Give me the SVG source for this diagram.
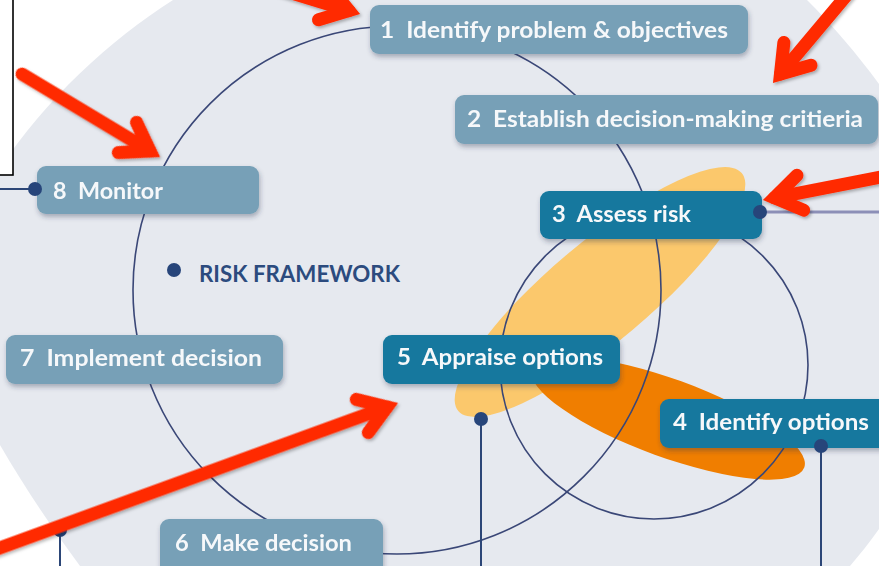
<svg xmlns="http://www.w3.org/2000/svg" width="879" height="566" viewBox="0 0 879 566">
  <defs>
    <style>
      .bg { fill: #e6e9ef; }
      .ring { fill: none; stroke: #3a4777; stroke-width: 1.6; }
      .light { fill: #77a0b7; }
      .dark { fill: #14789e; }
      .label { font-family: Lato, "Open Sans", "DejaVu Sans", sans-serif; font-weight: 700; font-size: 22px; fill: #f6f8fa; white-space: pre; }
      .title { font-family: Lato, "Open Sans", "DejaVu Sans", sans-serif; font-weight: 700; font-size: 22.5px; fill: #2c4b7e; }
      .wire { stroke: #2c4677; stroke-width: 2; fill: none; }
      .wire-soft { stroke: #8c8fb7; stroke-width: 3; fill: none; }
      .dot { fill: #27457a; }
      .pointer { stroke: #ff2a00; stroke-width: 13; fill: none; stroke-linecap: round; stroke-linejoin: miter; stroke-miterlimit: 6; }
    </style>
    <filter id="nodeShadow" x="-10%" y="-30%" width="125%" height="180%">
      <feDropShadow dx="1" dy="3" stdDeviation="2.5" flood-color="#2a3650" flood-opacity="0.35"/>
    </filter>
    <filter id="pointerShadow" x="-20%" y="-20%" width="140%" height="140%">
      <feDropShadow dx="1.5" dy="2" stdDeviation="1.8" flood-color="#000000" flood-opacity="0.28"/>
    </filter>
    <!-- chevron head, tip at the origin, pointing along +x -->
    <path id="head" d="M -38,-17.7 L -11.6,0 L -38,17.7"/>
  </defs>

  <!-- page -->
  <rect x="0" y="0" width="879" height="566" fill="#ffffff"/>
  <path class="bg" d="M 173,0 C 110,40 45,100 0,168 L 0,445 C 25,488 52,528 80,566 L 850,566 C 860,554 870,542 879,529 L 879,84 C 857,54 833,26 807,0 Z"/>

  <!-- framed panel at the top-left corner -->
  <rect x="-10" y="-10" width="23" height="185" fill="#ffffff" stroke="#000000" stroke-width="1.6"/>

  <!-- risk blobs -->
  <ellipse cx="600" cy="292" rx="185" ry="50" transform="rotate(-40 600 292)" fill="#fbc86c"/>
  <ellipse cx="668" cy="418" rx="145" ry="39" transform="rotate(20 668 418)" fill="#f07e00"/>

  <!-- cycle rings -->
  <g id="rings">
    <circle class="ring" cx="397" cy="290" r="264"/>
    <circle class="ring" cx="654" cy="365" r="154"/>
  </g>

  <!-- process steps -->
  <g id="step1" filter="url(#nodeShadow)">
    <rect class="light" x="370" y="5" width="378" height="49" rx="9"/>
    <text class="label" x="380" y="38" textLength="348" lengthAdjust="spacingAndGlyphs">1  Identify problem &amp; objectives</text>
  </g>
  <g id="step2" filter="url(#nodeShadow)">
    <rect class="light" x="455" y="95" width="423" height="49" rx="9"/>
    <text class="label" x="467" y="127" textLength="396" lengthAdjust="spacingAndGlyphs">2  Establish decision-making critieria</text>
  </g>
  <g id="step3" filter="url(#nodeShadow)">
    <rect class="dark" x="540" y="191" width="222" height="48" rx="9"/>
    <text class="label" x="552" y="222" textLength="139" lengthAdjust="spacingAndGlyphs">3  Assess risk</text>
  </g>
  <g id="step4" filter="url(#nodeShadow)">
    <rect class="dark" x="660" y="399" width="240" height="49" rx="9"/>
    <text class="label" x="673" y="430" textLength="196" lengthAdjust="spacingAndGlyphs">4  Identify options</text>
  </g>
  <g id="step5" filter="url(#nodeShadow)">
    <rect class="dark" x="383" y="335" width="237" height="49" rx="9"/>
    <text class="label" x="397" y="365" textLength="206" lengthAdjust="spacingAndGlyphs">5  Appraise options</text>
  </g>
  <g id="step6" filter="url(#nodeShadow)">
    <rect class="light" x="160" y="519" width="223" height="60" rx="9"/>
    <text class="label" x="175" y="551" textLength="177" lengthAdjust="spacingAndGlyphs">6  Make decision</text>
  </g>
  <g id="step7" filter="url(#nodeShadow)">
    <rect class="light" x="6" y="335" width="277" height="49" rx="9"/>
    <text class="label" x="20" y="366" textLength="242" lengthAdjust="spacingAndGlyphs">7  Implement decision</text>
  </g>
  <g id="step8" filter="url(#nodeShadow)">
    <rect class="light" x="37" y="166" width="222" height="48" rx="9"/>
    <text class="label" x="53" y="199" textLength="110" lengthAdjust="spacingAndGlyphs">8  Monitor</text>
  </g>

  <!-- leader lines with their end dots -->
  <g id="connectors">
    <line class="wire" x1="0" y1="189" x2="35" y2="189"/>
    <line class="wire-soft" x1="760" y1="212" x2="879" y2="212"/>
    <line class="wire" x1="481" y1="419" x2="481" y2="566"/>
    <line class="wire" x1="821" y1="446" x2="821" y2="566"/>
    <line class="wire" x1="60" y1="530" x2="60" y2="566"/>
    <circle class="dot" cx="35" cy="189" r="7"/>
    <circle class="dot" cx="760" cy="212" r="7"/>
    <circle class="dot" cx="481" cy="419" r="7"/>
    <circle class="dot" cx="821" cy="446" r="7"/>
    <circle class="dot" cx="60" cy="530" r="7"/>
  </g>

  <!-- framework legend -->
  <g id="legend">
    <circle class="dot" cx="174" cy="270" r="7"/>
    <text class="title" x="199" y="282" textLength="201" lengthAdjust="spacingAndGlyphs">RISK FRAMEWORK</text>
  </g>

  <!-- red call-out arrows -->
  <g id="callouts" filter="url(#pointerShadow)">
    <g transform="translate(360 14) rotate(17)">
      <line class="pointer" x1="-110" y1="0" x2="-11.6" y2="0"/>
      <use href="#head" class="pointer"/>
    </g>
    <g transform="translate(773 83) rotate(130)">
      <line class="pointer" x1="-150" y1="0" x2="-11.6" y2="0"/>
      <use href="#head" class="pointer"/>
    </g>
    <g transform="translate(160 157) rotate(31)">
      <line class="pointer" x1="-161" y1="0" x2="-11.6" y2="0"/>
      <use href="#head" class="pointer"/>
    </g>
    <g transform="translate(763 200) rotate(169)">
      <line class="pointer" x1="-160" y1="0" x2="-11.6" y2="0"/>
      <use href="#head" class="pointer"/>
    </g>
    <g transform="translate(398 403) rotate(-20)">
      <line class="pointer" x1="-440" y1="0" x2="-11.6" y2="0"/>
      <use href="#head" class="pointer"/>
    </g>
  </g>
</svg>
